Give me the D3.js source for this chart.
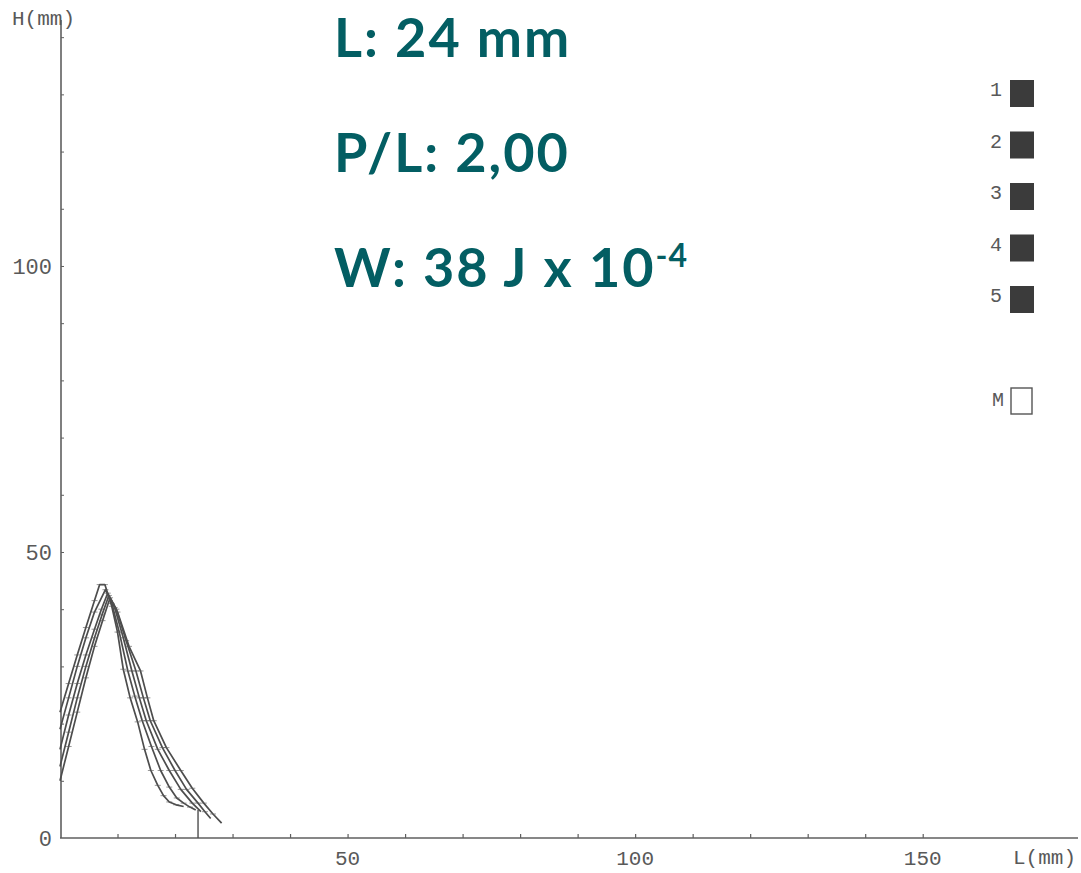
<!DOCTYPE html>
<html>
<head>
<meta charset="utf-8">
<script src="https://cdn.jsdelivr.net/npm/d3@7"></script>
<style>
  html, body { margin: 0; padding: 0; background: #ffffff; }
  svg { display: block; }
</style>
</head>
<body>
<svg id="chart" width="1081" height="873"></svg>
<script>
// Profile traces: L (mm) along the track, H (mm) height, one pair per run
const run1L = [0, 1.5, 3, 4.5, 6, 6.9, 7.8, 9, 10, 11, 12.2, 13.5, 14.7, 15.8, 17, 18, 19, 20.2, 21.5];
const run1H = [22, 27, 32, 36.8, 41.5, 44.3, 44.3, 40.5, 36, 29.5, 24.5, 20.3, 15.5, 11.8, 9.2, 7.4, 6.3, 5.8, 5.5];

const run2L = [0, 1.5, 3, 4.5, 6, 7.9, 9, 10.3, 11.8, 13, 14.3, 15.9, 17.5, 19, 20.3, 21.5, 22.6, 23.6];
const run2H = [19, 24.5, 30, 35, 39.5, 43.4, 41, 36, 29.2, 24.8, 20.5, 16, 11.8, 8.9, 7, 6.1, 5.4, 4.9];

const run3L = [0, 1.5, 3, 4.5, 6, 7.2, 8.3, 9.5, 11, 12.5, 13.8, 15, 17, 19, 21, 23, 24.5];
const run3H = [15.5, 21.5, 27, 32, 36.5, 40, 42.8, 40.3, 35, 29.2, 24.5, 20.5, 15.5, 11.8, 8.5, 6.1, 4.6];

const run4L = [0, 1.5, 3, 4.5, 6, 7.3, 8.5, 9.8, 11.5, 13.2, 14.5, 15.7, 17.8, 20, 22, 24, 25.2, 26.2];
const run4H = [12.5, 18.5, 24.5, 30, 35, 39, 42.4, 40, 34.5, 29.2, 24.5, 20.5, 15.8, 11.8, 8.5, 6.1, 4.6, 3.4];

const run5L = [0, 1.5, 3, 4.5, 6, 7.4, 8.7, 10, 12, 14, 15.2, 16.3, 18.5, 21, 23, 25, 26.6, 28.1];
const run5H = [10, 16, 22, 28, 33.5, 38, 42, 39.5, 33.5, 29.2, 24.5, 20.5, 15.8, 11.8, 8.7, 6.1, 4.2, 2.6];

// Legend entries: five runs (filled) and the mean (hollow)
const legendRuns = ["1", "2", "3", "4", "5"];
const legendMean = "M";

// Axis ticks and labels
const xTickValues = [10, 20, 30, 40, 50, 60, 70, 80, 90, 100, 110, 120, 130, 140, 150];
const xTickLabels = [50, 100, 150];
const yTickValues = [10, 20, 30, 40, 50, 60, 70, 80, 90, 100, 110, 120, 130, 140];
const yTickLabels = [0, 50, 100];

// Measured length marker and summary values
const markerL = 24;
const markerH = 4.9;
const summaryLength = "L: 24 mm";
const summaryRatio = "P/L: 2,00";
const summaryWork = "W: 38 J x 10";
const summaryWorkExp = "-4";

const svg = d3.select("#chart");

const x = d3.scaleLinear().domain([0, 177]).range([60, 1078]);
const y = d3.scaleLinear().domain([0, 143]).range([838, 20]);

const axisColor = "#5f5f5f";
const textColor = "#595959";
const monoFont = "'Liberation Mono', 'DejaVu Sans Mono', monospace";

// X axis: line with short inward ticks
const xAxis = svg.append("g").attr("transform", `translate(0,${y(0)})`)
  .call(d3.axisBottom(x).tickValues(xTickValues).tickSize(-4).tickFormat(""));
xAxis.select(".domain").attr("stroke", axisColor).attr("stroke-width", 1.6).attr("d", `M${x(0)},0H${x(177)}`);
xAxis.selectAll(".tick line").attr("stroke", axisColor).attr("stroke-width", 1.2);

// Y axis: line with short inward ticks
const yAxis = svg.append("g").attr("transform", `translate(${x(0) + 1},0)`)
  .call(d3.axisLeft(y).tickValues(yTickValues).tickSize(-3).tickFormat(""));
yAxis.select(".domain").attr("stroke", axisColor).attr("stroke-width", 1.6).attr("d", `M0,${y(0)}V${y(143)}`);
yAxis.selectAll(".tick line").attr("stroke", axisColor).attr("stroke-width", 1);

// Tick labels
svg.append("g").selectAll("text").data(xTickLabels).join("text")
  .attr("x", d => x(d))
  .attr("y", 865)
  .attr("text-anchor", "middle")
  .attr("font-family", monoFont)
  .attr("font-size", 21)
  .attr("fill", textColor)
  .text(d => d);

svg.append("g").selectAll("text").data(yTickLabels).join("text")
  .attr("x", 52)
  .attr("y", d => y(d) + 8)
  .attr("text-anchor", "end")
  .attr("font-family", monoFont)
  .attr("font-size", 22)
  .attr("fill", textColor)
  .text(d => d);

// Axis titles
svg.append("text")
  .attr("x", 12).attr("y", 25)
  .attr("font-family", monoFont).attr("font-size", 21)
  .attr("fill", textColor)
  .text("H(mm)");

svg.append("text")
  .attr("x", 1076).attr("y", 864)
  .attr("text-anchor", "end")
  .attr("font-family", monoFont).attr("font-size", 21)
  .attr("fill", textColor)
  .text("L(mm)");

// Profile traces
const runs = [
  [run1L, run1H], [run2L, run2H], [run3L, run3H], [run4L, run4H], [run5L, run5H]
].map(([ls, hs]) => ls.map((l, i) => ({ l, h: hs[i] })));

const line = d3.line().x(d => x(d.l)).y(d => y(d.h)).curve(d3.curveLinear);

const traces = svg.append("g");
traces.selectAll("path").data(runs).join("path")
  .attr("d", line)
  .attr("fill", "none")
  .attr("stroke", "#4d4d4d")
  .attr("stroke-width", 1.7)
  .attr("stroke-linejoin", "round");

// Small horizontal plotter marks at each sampled point
traces.selectAll("g.marks").data(runs).join("g").attr("class", "marks")
  .selectAll("line").data(d => d.slice(1, -1)).join("line")
  .attr("x1", d => x(d.l) - 3).attr("x2", d => x(d.l) + 3)
  .attr("y1", d => y(d.h)).attr("y2", d => y(d.h))
  .attr("stroke", "#555").attr("stroke-width", 1).attr("opacity", 0.6);

// Measured length marker
svg.append("line")
  .attr("x1", x(markerL)).attr("x2", x(markerL))
  .attr("y1", y(0)).attr("y2", y(markerH))
  .attr("stroke", "#4d4d4d").attr("stroke-width", 1.4);

// Legend
const legendY = d3.scalePoint().domain(legendRuns).range([93, 299]);
const legend = svg.append("g");
legendRuns.forEach(k => {
  legend.append("rect")
    .attr("x", 1010).attr("y", legendY(k) - 13)
    .attr("width", 24).attr("height", 27)
    .attr("fill", "#3b3b3b");
  legend.append("text")
    .attr("x", 1002).attr("y", legendY(k) + 3)
    .attr("text-anchor", "end")
    .attr("font-family", monoFont).attr("font-size", 20)
    .attr("fill", textColor)
    .text(k);
});
legend.append("rect")
  .attr("x", 1011).attr("y", 388)
  .attr("width", 21).attr("height", 26)
  .attr("fill", "none").attr("stroke", "#555").attr("stroke-width", 1.4);
legend.append("text")
  .attr("x", 1004).attr("y", 406)
  .attr("text-anchor", "end")
  .attr("font-family", monoFont).attr("font-size", 20)
  .attr("fill", textColor)
  .text(legendMean);

// Summary values
const summaryFont = "Lato, 'Open Sans', sans-serif";
const summaryColor = "#035e63";
const summary = svg.append("g")
  .attr("font-family", summaryFont)
  .attr("font-weight", 700)
  .attr("font-size", 54)
  .attr("letter-spacing", 2)
  .attr("fill", summaryColor);

summary.append("text").attr("x", 334).attr("y", 57).text(summaryLength);
summary.append("text").attr("x", 334).attr("y", 172).text(summaryRatio);
const work = summary.append("text").attr("x", 334).attr("y", 287);
work.append("tspan").text(summaryWork);
work.append("tspan").attr("dy", -20).attr("font-size", 32).attr("letter-spacing", 1).text(summaryWorkExp);
</script>
</body>
</html>
